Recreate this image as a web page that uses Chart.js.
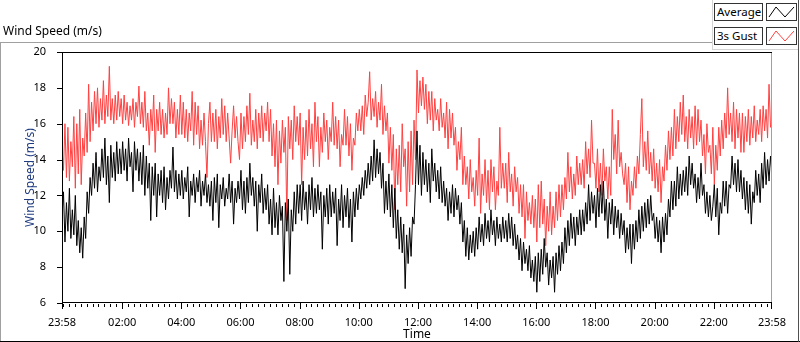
<!DOCTYPE html>
<html>
<head>
<meta charset="utf-8">
<script src="https://cdn.jsdelivr.net/npm/chart.js@4.4.1/dist/chart.umd.min.js"></script>
<style>
  body { margin: 0; background: #fff; font-family: "Noto Sans", sans-serif; font-size: 12px; color: #000; }
  #wrap { position: relative; width: 800px; height: 342px; overflow: hidden; }
  #wind-chart { position: absolute; left: 0; top: 0; }
  .ln { position: absolute; }
  #title { position: absolute; left: 3px; top: 22px; line-height: 17px; }
  .lbox { position: absolute; left: 714px; width: 49px; height: 18px; border: 1px solid #333; background: #fff;
          line-height: 16px; padding-left: 2px; box-sizing: border-box; font-size: 11.5px; }
  .ibox { position: absolute; left: 766px; width: 31px; height: 18px; border: 1px solid #333; box-sizing: border-box; background: #fff; }
  .ibox svg { position: absolute; left: 0; top: 0; }
</style>
</head>
<body>
<div id="wrap">
  <canvas id="wind-chart" width="800" height="342"></canvas>
  <div id="title">Wind Speed (m/s)</div>
  <!-- panel frame -->
  <div class="ln" style="left:0;top:42px;width:712px;height:1px;background:#a0a0a0"></div>
  <div class="ln" style="left:0;top:42px;width:1px;height:300px;background:#a0a0a0"></div>
  <div class="ln" style="left:0;top:341px;width:800px;height:1px;background:#000"></div>
  <div class="ln" style="left:798px;top:0;width:1px;height:342px;background:#505050"></div>
  <!-- legend area -->
  <div class="ln" style="left:712px;top:0;width:1px;height:49px;background:#d4d4d4"></div>
  <div class="ln" style="left:712px;top:49px;width:86px;height:1px;background:#d4d4d4"></div>
  <div class="lbox" style="top:3px">Average</div>
  <div class="ibox" style="top:3px"><svg width="29" height="16"><polyline points="2,13 9,3 18,13 27,3" fill="none" stroke="#000" stroke-width="1"/></svg></div>
  <div class="lbox" style="top:27px">3s Gust</div>
  <div class="ibox" style="top:27px"><svg width="29" height="16"><polyline points="2,13 9,3 18,13 27,3" fill="none" stroke="#ff4040" stroke-width="1"/></svg></div>
</div>
<script>
// Readings cover 23:58 -> 23:58 next day (1440 minutes), evenly spaced

// Average wind speed (m/s)
const avgSpeed = [
  10.8, 12.2, 9.4, 11.6, 10.0, 12.4, 9.6, 11.2, 9.8, 12.0, 9.2, 10.6, 8.8, 10.2, 8.5, 10.8, 9.6, 12.2, 11.0, 13.0,
  12.0, 13.8, 12.4, 14.4, 12.2, 13.6, 12.8, 14.6, 13.0, 15.2, 12.6, 14.2, 11.6, 14.8, 13.0, 14.4, 12.8, 15.0, 13.2, 14.6,
  13.2, 15.0, 13.4, 14.6, 12.8, 15.2, 13.6, 14.4, 12.2, 15.0, 13.4, 14.6, 12.8, 14.4, 12.6, 14.8, 12.0, 14.2, 12.4, 13.8,
  10.6, 13.6, 12.0, 13.8, 10.8, 13.2, 12.0, 13.4, 11.6, 13.6, 11.2, 13.0, 11.8, 13.4, 12.4, 14.7, 12.2, 13.4, 11.8, 13.2,
  12.0, 13.4, 11.8, 13.0, 12.2, 13.6, 10.8, 12.8, 12.0, 13.2, 11.6, 13.0, 12.2, 13.4, 11.4, 12.8, 12.0, 13.2, 11.6, 12.6,
  11.4, 12.8, 10.6, 13.0, 11.6, 13.2, 10.2, 12.6, 11.8, 13.0, 11.4, 12.4, 11.8, 13.2, 11.6, 12.8, 10.4, 12.4, 11.6, 12.8,
  11.8, 13.4, 11.2, 12.8, 11.0, 13.0, 11.6, 13.8, 12.0, 13.0, 11.4, 12.8, 10.0, 12.6, 11.6, 13.2, 11.0, 12.4, 11.2, 12.6,
  10.4, 11.8, 9.8, 12.4, 10.2, 11.6, 9.8, 12.0, 10.6, 11.4, 7.2, 11.6, 10.0, 11.8, 7.6, 11.2, 10.0, 12.2, 10.4, 12.6,
  11.0, 12.6, 10.6, 12.8, 11.2, 12.2, 10.4, 12.6, 11.2, 13.0, 10.8, 12.4, 11.0, 12.6, 11.2, 12.2, 9.0, 12.0, 10.8, 12.4,
  10.4, 12.6, 10.8, 12.2, 11.0, 12.4, 9.2, 11.8, 10.6, 12.6, 10.2, 12.0, 10.8, 12.4, 10.2, 11.8, 9.4, 12.2, 10.8, 12.4,
  11.2, 12.6, 11.8, 13.0, 12.0, 13.4, 12.4, 13.8, 12.6, 14.2, 12.8, 15.1, 13.0, 14.6, 13.2, 14.4, 12.4, 13.8, 11.0, 12.8,
  11.2, 13.2, 10.8, 12.6, 10.2, 12.4, 9.6, 11.2, 9.0, 10.8, 8.8, 10.4, 6.8, 9.8, 8.2, 10.2, 8.6, 10.8, 10.4, 12.6,
  15.6, 12.6, 14.8, 12.0, 14.4, 12.6, 14.0, 12.2, 13.8, 11.6, 14.6, 12.8, 13.8, 12.2, 13.4, 11.8, 13.6, 11.6, 12.8, 11.4,
  12.4, 10.6, 12.2, 11.0, 12.6, 10.8, 12.4, 11.2, 12.0, 10.4, 11.6, 9.4, 10.6, 8.6, 10.2, 8.4, 9.8, 8.8, 10.0, 8.6,
  10.2, 9.0, 10.8, 9.4, 10.4, 9.2, 11.0, 9.6, 10.6, 9.4, 11.2, 9.8, 10.6, 9.2, 10.8, 9.6, 10.4, 9.4, 10.8, 9.6,
  10.6, 9.4, 11.0, 9.6, 10.8, 9.2, 10.4, 9.0, 9.8, 8.4, 9.6, 7.8, 9.4, 8.2, 9.0, 7.8, 9.2, 7.4, 8.4, 7.2,
  8.6, 6.6, 8.8, 7.2, 9.0, 7.6, 9.6, 8.0, 8.8, 7.0, 8.4, 7.4, 8.6, 6.6, 8.8, 7.6, 9.2, 7.8, 9.4, 8.2,
  10.2, 8.8, 10.6, 9.2, 11.0, 9.6, 10.8, 9.2, 10.8, 9.8, 11.2, 9.8, 11.2, 10.0, 11.6, 10.4, 12.6, 10.6, 12.2, 11.0,
  12.0, 10.2, 12.4, 10.8, 12.6, 11.0, 12.8, 10.6, 11.8, 9.6, 11.6, 10.4, 11.8, 9.8, 11.4, 10.2, 11.2, 9.6, 11.0, 9.8,
  10.6, 8.8, 10.2, 9.0, 10.4, 8.2, 10.4, 9.0, 10.6, 9.4, 11.2, 9.6, 11.4, 10.0, 11.6, 10.2, 11.8, 10.4, 12.0, 10.6,
  11.0, 9.6, 10.8, 9.4, 10.6, 8.8, 10.8, 9.4, 11.0, 9.8, 11.8, 10.8, 12.8, 11.2, 12.8, 11.4, 13.6, 11.8, 13.2, 12.0,
  13.4, 12.2, 13.6, 12.0, 14.2, 12.6, 13.8, 12.4, 13.2, 11.6, 13.0, 11.8, 13.8, 12.0, 12.6, 11.0, 12.2, 10.8, 12.0, 10.6,
  11.4, 12.6, 10.8, 12.4, 9.8, 11.6, 11.0, 12.8, 11.4, 12.8, 11.0, 12.6, 12.4, 14.2, 12.6, 13.8, 12.2, 14.0, 12.2, 13.4,
  11.8, 13.0, 11.2, 12.8, 11.0, 12.6, 10.4, 12.2, 11.6, 13.4, 12.0, 13.2, 11.6, 13.8, 12.4, 14.4, 12.6, 14.0, 12.8, 14.2, 13.2
];

// 3 second gust (m/s)
const gustSpeed = [
  14.6, 13.4, 16.0, 13.0, 15.8, 12.8, 15.0, 13.6, 16.4, 12.4, 16.0, 13.2, 16.8, 12.6, 15.2, 14.2, 16.6, 14.4, 18.2, 15.0,
  17.2, 15.6, 17.8, 16.0, 18.0, 15.8, 17.4, 16.2, 18.4, 16.0, 17.6, 16.4, 19.2, 16.2, 17.4, 16.0, 17.6, 16.2, 17.8, 16.4,
  17.4, 16.0, 17.6, 16.2, 17.2, 15.9, 17.0, 16.2, 17.4, 15.8, 17.2, 16.4, 18.1, 16.0, 17.2, 15.8, 17.8, 15.6, 16.6, 14.8,
  16.8, 15.6, 17.6, 14.4, 16.8, 15.6, 17.2, 15.4, 16.8, 15.2, 16.6, 15.4, 18.0, 16.0, 17.4, 16.0, 17.2, 15.2, 16.8, 15.4,
  17.6, 15.4, 17.2, 15.2, 16.8, 15.0, 16.6, 15.6, 17.8, 14.8, 17.2, 15.4, 17.0, 14.6, 16.2, 14.8, 16.6, 15.0, 13.0, 16.0,
  17.2, 15.0, 16.6, 15.0, 16.8, 14.6, 16.4, 15.2, 17.4, 15.4, 17.0, 15.0, 16.6, 15.2, 13.8, 15.6, 17.0, 15.2, 16.4, 15.0,
  14.0, 16.6, 14.6, 16.4, 15.0, 17.0, 15.4, 17.7, 14.8, 16.2, 15.0, 16.8, 14.6, 16.6, 15.2, 17.0, 15.0, 16.6, 15.6, 17.2,
  15.0, 16.8, 14.2, 16.0, 13.6, 16.2, 12.6, 15.6, 13.8, 16.2, 14.4, 15.8, 10.6, 16.4, 14.6, 16.2, 14.0, 17.0, 15.0, 16.4,
  14.8, 16.6, 12.6, 15.8, 14.0, 16.2, 14.2, 16.8, 14.6, 16.0, 13.6, 17.2, 15.0, 16.4, 13.6, 15.8, 14.4, 16.6, 15.0, 16.2,
  14.0, 15.8, 15.0, 17.2, 14.8, 16.4, 14.6, 16.2, 13.6, 15.4, 14.8, 16.8, 14.8, 16.4, 14.2, 16.0, 13.4, 15.2, 14.8, 16.6,
  15.6, 16.8, 15.6, 17.0, 15.4, 17.6, 16.4, 17.2, 18.9, 16.2, 17.4, 16.4, 17.8, 15.8, 17.2, 16.2, 18.2, 15.4, 17.0, 15.6,
  16.6, 13.8, 15.8, 13.4, 15.4, 11.2, 14.6, 12.6, 14.8, 12.2, 16.0, 13.6, 14.6, 11.4, 15.0, 12.2, 15.6, 12.6, 16.2, 14.0,
  19.0, 16.6, 18.4, 17.0, 18.6, 16.8, 18.2, 16.0, 17.8, 16.2, 17.8, 15.6, 17.4, 16.2, 16.8, 15.6, 17.4, 15.8, 16.6, 15.2,
  17.2, 14.6, 16.8, 15.2, 16.6, 14.8, 15.8, 13.4, 15.0, 14.0, 15.8, 12.6, 14.2, 12.6, 13.6, 11.8, 14.0, 12.2, 13.0, 11.4,
  13.4, 12.0, 15.2, 11.0, 13.2, 12.0, 14.0, 11.6, 13.4, 11.2, 14.0, 12.2, 13.6, 11.2, 12.8, 12.0, 15.8, 12.4, 13.8, 12.4,
  13.8, 11.6, 14.4, 12.2, 13.2, 11.4, 13.6, 12.2, 13.0, 11.0, 12.6, 10.8, 12.6, 9.6, 12.2, 10.6, 11.6, 10.4, 12.0, 10.2,
  11.8, 9.4, 12.6, 10.2, 12.8, 10.4, 11.8, 9.2, 11.4, 10.0, 12.2, 9.8, 11.4, 10.2, 12.2, 10.6, 12.6, 10.8, 12.6, 11.2,
  13.0, 11.8, 14.4, 12.2, 13.6, 11.8, 13.2, 12.0, 14.2, 12.6, 13.8, 12.6, 14.0, 12.4, 15.0, 13.2, 14.6, 13.0, 16.2, 13.8,
  13.8, 12.4, 14.6, 12.2, 13.8, 12.0, 14.6, 12.8, 13.6, 11.8, 13.6, 12.0, 16.8, 14.0, 15.4, 13.2, 16.2, 13.6, 14.4, 13.2,
  12.6, 13.8, 11.6, 13.6, 11.2, 12.8, 12.0, 13.6, 12.4, 14.2, 13.2, 15.4, 17.4, 13.6, 15.0, 13.4, 15.6, 13.2, 14.4, 12.8,
  14.6, 12.4, 13.8, 12.2, 14.0, 11.6, 13.6, 12.8, 14.8, 13.4, 15.6, 14.0, 15.8, 14.2, 16.8, 14.6, 16.4, 15.0, 17.2, 15.4,
  17.6, 15.0, 16.4, 14.6, 16.8, 15.2, 16.4, 14.6, 17.0, 14.8, 16.8, 15.0, 16.2, 14.2, 15.4, 13.2, 16.0, 14.4, 14.8, 13.2,
  15.8, 12.6, 14.8, 13.4, 15.8, 14.2, 16.2, 14.6, 16.6, 15.2, 18.0, 15.4, 16.6, 15.0, 17.2, 14.6, 16.8, 15.2, 16.6, 14.4,
  16.6, 14.4, 16.4, 15.0, 16.8, 14.8, 16.4, 15.2, 17.0, 15.0, 16.2, 15.4, 16.8, 15.0, 17.0, 15.6, 16.8, 15.2, 18.2, 15.8, 16.0
];

// x axis: labelled ticks (minutes after 23:58) and their labels
const majorMinutes = [0, 122, 242, 362, 482, 602, 722, 842, 962, 1082, 1202, 1322, 1440];
const tickLabels = ['23:58', '02:00', '04:00', '06:00', '08:00', '10:00', '12:00',
                    '14:00', '16:00', '18:00', '20:00', '22:00', '23:58'];
const minorStep = 12;
const yTicks = [6, 8, 10, 12, 14, 16, 18, 20];

const TICK_FONT = { family: '"Noto Sans", sans-serif', size: 11 };
const TITLE_FONT = { family: '"Noto Sans", sans-serif', size: 12 };

// Frame, axis lines and tick marks in LabVIEW style
const frameTicks = {
  id: 'frameTicks',
  afterDraw(chart) {
    const { ctx, chartArea: a, scales: { x, y } } = chart;
    const L = Math.round(a.left), R = Math.round(a.right);
    const T = Math.round(a.top), B = Math.round(a.bottom);
    ctx.save();
    ctx.lineWidth = 1;

    // right edge (gray)
    ctx.strokeStyle = '#a0a0a0';
    ctx.beginPath();
    ctx.moveTo(R - 0.5, T); ctx.lineTo(R - 0.5, B);
    ctx.stroke();

    ctx.strokeStyle = '#000';
    ctx.beginPath();
    ctx.moveTo(L, T + 0.5); ctx.lineTo(R, T + 0.5);       // top
    ctx.moveTo(L + 0.5, T); ctx.lineTo(L + 0.5, B);       // y axis
    ctx.moveTo(L, B - 0.5); ctx.lineTo(R, B - 0.5);       // x axis

    // y ticks
    yTicks.forEach(v => {
      const py = Math.round(y.getPixelForValue(v)) + 0.5;
      ctx.moveTo(L - 5, py); ctx.lineTo(L, py);
    });

    // x minor ticks
    for (let m = 2; m < 1440; m += minorStep) {
      const px = Math.round(x.getPixelForValue(m)) + 0.5;
      ctx.moveTo(px, B + 1); ctx.lineTo(px, B + 4);
    }
    // x major ticks
    majorMinutes.forEach(m => {
      const px = Math.min(Math.round(x.getPixelForValue(m)) + 0.5, R - 0.5);
      ctx.moveTo(px, B); ctx.lineTo(px, B + 6);
    });
    ctx.stroke();
    ctx.restore();
  }
};

// Spread readings evenly over the 24 h axis
function buildPoints(values) {
  const step = 1440 / (values.length - 1);
  return values.map((v, i) => ({ x: i * step, y: v }));
}

function createWindChart() {
  const ctx = document.getElementById('wind-chart');
  return new Chart(ctx, {
    type: 'line',
    data: {
      datasets: [
        {
          label: 'Average',
          data: buildPoints(avgSpeed),
          borderColor: '#000000',
          borderWidth: 1,
          pointRadius: 0,
          tension: 0
        },
        {
          label: '3s Gust',
          data: buildPoints(gustSpeed),
          borderColor: '#ff4040',
          borderWidth: 1,
          pointRadius: 0,
          tension: 0
        }
      ]
    },
    options: {
      responsive: false,
      animation: false,
      layout: { padding: { left: 0, top: 52, right: 28, bottom: 0 } },
      plugins: {
        legend: { display: false },
        tooltip: { enabled: false }
      },
      scales: {
        x: {
          type: 'linear',
          min: 0,
          max: 1440,
          grid: { display: false },
          border: { display: false },
          afterBuildTicks: scale => {
            scale.ticks = majorMinutes.map(v => ({ value: v }));
          },
          afterFit: scale => { scale.height = 39; },
          ticks: {
            autoSkip: false,
            maxRotation: 0,
            padding: 5,
            color: '#000',
            font: TICK_FONT,
            callback: (value, index) => tickLabels[index]
          },
          title: {
            display: true,
            text: 'Time',
            color: '#000',
            font: TITLE_FONT,
            padding: { top: 0, bottom: 0 }
          }
        },
        y: {
          min: 6,
          max: 20,
          grid: { display: false },
          border: { display: false },
          afterFit: scale => { scale.width = 62; },
          ticks: {
            stepSize: 2,
            padding: 8,
            color: '#000',
            font: TICK_FONT
          },
          title: {
            display: true,
            text: 'Wind Speed (m/s)',
            color: '#203c80',
            font: TITLE_FONT,
            padding: { top: 23, bottom: 0 }
          }
        }
      }
    },
    plugins: [frameTicks]
  });
}

document.addEventListener('DOMContentLoaded', () => {
  try {
    createWindChart();
  } catch (error) {
    console.error('Error creating wind chart:', error);
  }
});
</script>
</body>
</html>
